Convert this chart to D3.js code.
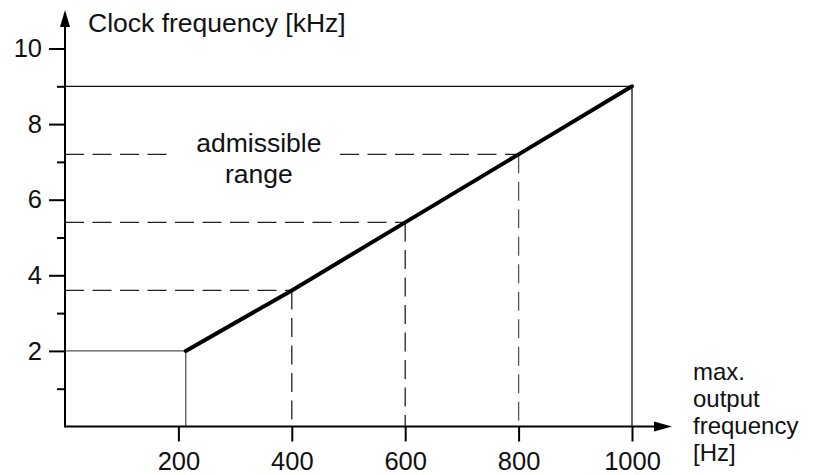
<!DOCTYPE html>
<html>
<head>
<meta charset="utf-8">
<script src="https://cdn.jsdelivr.net/npm/d3@7"></script>
<style>
  body { margin: 0; background: #fff; }
  svg text { font-family: "Liberation Sans", Arial, Helvetica, sans-serif; fill: #111; }
</style>
</head>
<body>
<div id="chart"></div>
<script>
// output frequency [Hz] vs clock frequency [kHz]
var outFreq = [213, 400, 600, 800, 1000];
var clockFreq = [2, 3.6, 5.4, 7.2, 9];
var xTicks = [200, 400, 600, 800, 1000];
var yTicks = [2, 4, 6, 8, 10];
var yMinorTicks = [1, 3, 5, 7, 9];
var xLabelLines = ["max.", "output", "frequency", "[Hz]"];

var width = 818, height = 475;
var svg = d3.select("#chart").append("svg")
    .attr("width", width)
    .attr("height", height);

var x = d3.scaleLinear().domain([0, 1000]).range([65, 632]);
var y = d3.scaleLinear().domain([0, 10]).range([426.5, 48.5]);

var fs = 26.5, tickFs = 25.5, sideFs = 24;

// thin reference lines
var thin = svg.append("g").attr("fill", "none");
thin.append("line") // 9 kHz horizontal
    .attr("x1", x(0)).attr("x2", x(1000))
    .attr("y1", y(9)).attr("y2", y(9))
    .attr("stroke", "#111").attr("stroke-width", 1.3);
thin.append("line") // 1000 Hz vertical
    .attr("x1", x(1000)).attr("x2", x(1000))
    .attr("y1", y(0)).attr("y2", y(9))
    .attr("stroke", "#111").attr("stroke-width", 1.3);
thin.append("line") // 2 kHz floor
    .attr("x1", x(0)).attr("x2", x(outFreq[0]))
    .attr("y1", y(clockFreq[0])).attr("y2", y(clockFreq[0]))
    .attr("stroke", "#555").attr("stroke-width", 1.3);
thin.append("line")
    .attr("x1", x(outFreq[0])).attr("x2", x(outFreq[0]))
    .attr("y1", y(0)).attr("y2", y(clockFreq[0]))
    .attr("stroke", "#555").attr("stroke-width", 1.3);

// dashed guides for the middle points
var mids = d3.range(1, outFreq.length - 1);
thin.selectAll(".hdash").data(mids).enter().append("line")
    .attr("class", "hdash")
    .attr("x1", x(0))
    .attr("x2", function (i) { return x(outFreq[i]); })
    .attr("y1", function (i) { return y(clockFreq[i]); })
    .attr("y2", function (i) { return y(clockFreq[i]); })
    .attr("stroke", "#222").attr("stroke-width", 1.3)
    .attr("stroke-dasharray", "19,8.5");
thin.selectAll(".vdash").data(mids).enter().append("line")
    .attr("class", "vdash")
    .attr("x1", function (i) { return x(outFreq[i]); })
    .attr("x2", function (i) { return x(outFreq[i]); })
    .attr("y1", function (i) { return y(clockFreq[i]); })
    .attr("y2", y(0))
    .attr("stroke", function (i) { return i == 3 ? "#555" : "#222"; })
    .attr("stroke-width", 1.3)
    .attr("stroke-dasharray", "19,8.5");

// "admissible range" label, with a white gap in the dashed line behind it
var note = svg.append("g");
var noteBg = note.append("rect").attr("fill", "#fff");
var t1 = note.append("text")
    .attr("x", x(342)).attr("y", y(7.2) - 2.5)
    .attr("text-anchor", "middle")
    .style("font-size", fs + "px")
    .text("admissible");
note.append("text")
    .attr("x", x(342)).attr("y", y(7.2) + 28.5)
    .attr("text-anchor", "middle")
    .style("font-size", fs + "px")
    .text("range");
var bb = t1.node().getBBox();
noteBg.attr("x", bb.x - 22).attr("width", bb.width + 36)
    .attr("y", y(7.2) - 3).attr("height", 6);

// the characteristic
svg.append("path")
    .datum(d3.zip(outFreq, clockFreq))
    .attr("fill", "none")
    .attr("stroke", "#000")
    .attr("stroke-width", 4)
    .attr("stroke-linecap", "round")
    .attr("d", d3.line()
        .x(function (d) { return x(d[0]); })
        .y(function (d) { return y(d[1]); }));

// axes
var xAxis = svg.append("g")
    .attr("transform", "translate(0," + y(0) + ")")
    .call(d3.axisBottom(x).tickValues(xTicks).tickFormat(d3.format("d"))
        .tickSizeInner(15).tickSizeOuter(0).tickPadding(10));
var yAxis = svg.append("g")
    .attr("transform", "translate(" + x(0) + ",0)")
    .call(d3.axisLeft(y).tickValues(yTicks).tickSizeInner(16).tickSizeOuter(0).tickPadding(7));
var yMinor = svg.append("g")
    .attr("transform", "translate(" + x(0) + ",0)")
    .call(d3.axisLeft(y).tickValues(yMinorTicks).tickSize(8).tickFormat(""));

[xAxis, yAxis, yMinor].forEach(function (g) {
    g.select(".domain").remove();
    g.selectAll(".tick line").attr("stroke", "#000").attr("stroke-width", 2);
    g.selectAll(".tick text")
        .style("font-size", tickFs + "px")
        .style("font-family", "'Liberation Sans', Arial, Helvetica, sans-serif")
        .attr("fill", "#111");
});

// axis lines with arrowheads
var xEnd = 672, yEnd = 10;
svg.append("line")
    .attr("x1", x(0)).attr("x2", xEnd - 6)
    .attr("y1", y(0)).attr("y2", y(0))
    .attr("stroke", "#000").attr("stroke-width", 2);
svg.append("line")
    .attr("x1", x(0)).attr("x2", x(0))
    .attr("y1", y(0) + 1).attr("y2", yEnd + 6)
    .attr("stroke", "#000").attr("stroke-width", 2);
svg.append("path")
    .attr("d", "M" + xEnd + "," + y(0) + "L" + (xEnd - 18) + "," + (y(0) - 5) + "L" + (xEnd - 18) + "," + (y(0) + 5) + "Z")
    .attr("fill", "#000");
svg.append("path")
    .attr("d", "M" + x(0) + "," + yEnd + "L" + (x(0) - 5) + "," + (yEnd + 17) + "L" + (x(0) + 5) + "," + (yEnd + 17) + "Z")
    .attr("fill", "#000");

// axis titles
svg.append("text")
    .attr("x", 88).attr("y", 32)
    .style("font-size", fs + "px")
    .text("Clock frequency [kHz]");
svg.append("g").selectAll("text").data(xLabelLines).enter().append("text")
    .attr("x", 693)
    .attr("y", function (d, i) { return 380 + i * 27; })
    .style("font-size", sideFs + "px")
    .text(function (d) { return d; });
</script>
</body>
</html>
